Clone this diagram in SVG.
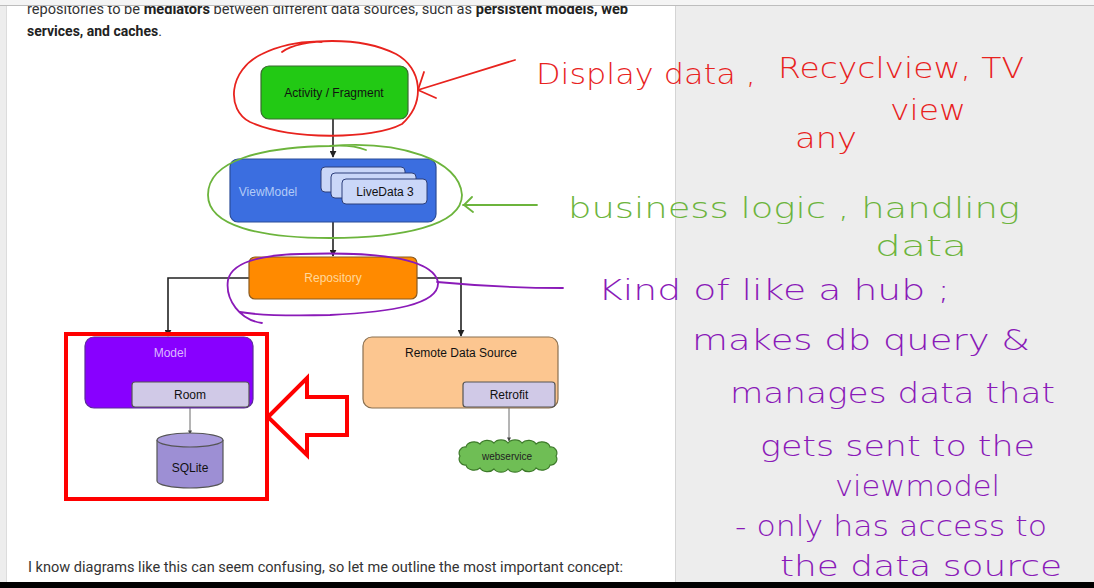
<svg xmlns="http://www.w3.org/2000/svg" width="1094" height="588" viewBox="0 0 1094 588">
<style>
.page{font-family:Roboto,"Liberation Sans",sans-serif;font-size:14px;fill:#333}
.b{font-weight:bold;fill:#222}
.lbl{font-family:"Liberation Sans",Arial,sans-serif;font-size:12px;text-anchor:middle}
.node{stroke-width:1.2}
.conn{fill:none;stroke:#222;stroke-width:1.6}
.thin{fill:none;stroke:#444;stroke-width:0.8}
.hand{font-family:"DejaVu Sans",sans-serif;font-weight:200;font-size:29px}
.ink{fill:none;stroke-width:1.8;stroke-linecap:round;stroke-linejoin:round}
.red{fill:#e8231e}.redS{stroke:#e8231e}
.grn{fill:#6cb43c}.grnS{stroke:#6cb43c}
.pur{fill:#8a1ab8}.purS{stroke:#8a1ab8}
</style>
<defs>
<marker id="ah" viewBox="0 0 10 10" refX="9" refY="5" markerWidth="7" markerHeight="7" orient="auto" markerUnits="userSpaceOnUse"><path d="M0,0 L10,5 L0,10 z" fill="#222"/></marker>
<marker id="ahs" viewBox="0 0 10 10" refX="9" refY="5" markerWidth="4" markerHeight="4" orient="auto" markerUnits="userSpaceOnUse"><path d="M0,0 L10,5 L0,10 z" fill="#444"/></marker>
</defs>
<!-- backgrounds -->
<rect x="0" y="0" width="1094" height="588" fill="#ededed"/>
<rect x="6" y="0" width="669" height="588" fill="#ffffff"/>
<line x1="675.5" y1="0" x2="675.5" y2="588" stroke="#d4d4d4" stroke-width="1"/>
<line x1="6.5" y1="0" x2="6.5" y2="588" stroke="#dcdcdc" stroke-width="1"/>
<!-- page text -->
<text class="page" x="27" y="14" textLength="601" lengthAdjust="spacingAndGlyphs">repositories to be <tspan class="b">mediators</tspan> between different data sources, such as <tspan class="b">persistent models, web</tspan></text>
<text class="page" x="27" y="36"><tspan class="b">services, and caches</tspan>.</text>
<text class="page" x="28" y="572" textLength="595" lengthAdjust="spacingAndGlyphs">I know diagrams like this can seem confusing, so let me outline the most important concept:</text>
<!-- top band -->
<rect x="0" y="0" width="1094" height="5" fill="#f4f4f4"/>
<line x1="0" y1="5.5" x2="1094" y2="5.5" stroke="#bdbdbd" stroke-width="1.2"/>
<rect x="0" y="582" width="1094" height="6" fill="#000"/>

<!-- connectors -->
<g id="connectors">
<path class="conn" d="M333 119 V157" marker-end="url(#ah)"/>
<path class="conn" d="M333 222 V256" marker-end="url(#ah)"/>
<path class="conn" d="M249 278 H168 V336" marker-end="url(#ah)"/>
<path class="conn" d="M417 278 H461 V336" marker-end="url(#ah)"/>
<path class="thin" d="M190 407 V434" marker-end="url(#ahs)"/>
<path class="thin" d="M509 407 V441" marker-end="url(#ahs)"/>
</g>

<g id="activity">
<rect class="node" x="261" y="66" width="147" height="53" rx="8" fill="#22c914" stroke="#3a6a30"/>
<text class="lbl" x="334" y="97" fill="#111">Activity / Fragment</text>
</g>
<g id="viewmodel">
<rect class="node" x="230" y="159" width="206" height="63" rx="8" fill="#3b6ee0" stroke="#2b4c98"/>
<text class="lbl" x="268" y="196" fill="#b3cbf7">ViewModel</text>
<rect x="321" y="167" width="84" height="25" rx="4" fill="#cad7f8" stroke="#2c3e7a" stroke-width="1"/>
<rect x="331" y="173" width="85" height="25" rx="4" fill="#cad7f8" stroke="#2c3e7a" stroke-width="1"/>
<rect x="342" y="179" width="85" height="25" rx="4" fill="#cad7f8" stroke="#2c3e7a" stroke-width="1"/>
<text class="lbl" x="385" y="196" fill="#111">LiveData 3</text>
</g>
<g id="repository">
<rect class="node" x="249" y="257" width="168" height="42" rx="6" fill="#ff8a00" stroke="#8a5a20"/>
<text class="lbl" x="333" y="282" fill="#ffd89c">Repository</text>
</g>
<g id="model">
<rect class="node" x="85" y="337" width="168" height="71" rx="9" fill="#8800ff" stroke="#5a2a9a"/>
<text class="lbl" x="170" y="357" fill="#dcb8ff">Model</text>
</g>
<g id="room">
<rect class="node" x="132" y="382" width="117" height="25" rx="3" fill="#d0c9e7" stroke="#555"/>
<text class="lbl" x="190" y="399" fill="#111">Room</text>
</g>
<g id="sqlite">
<path class="node" d="M157 440 V481 A33 7 0 0 0 223 481 V440" fill="#9d8fd4" stroke="#555"/>
<ellipse class="node" cx="190" cy="440" rx="33" ry="7" fill="#a99bdc" stroke="#555"/>
<text class="lbl" x="190" y="472" fill="#111">SQLite</text>
</g>
<g id="remote">
<rect class="node" x="363" y="337" width="195" height="71" rx="9" fill="#fcc690" stroke="#8a7050"/>
<text class="lbl" x="461" y="357" fill="#111">Remote Data Source</text>
</g>
<g id="retrofit">
<rect class="node" x="463" y="382" width="92" height="25" rx="3" fill="#d0c9e7" stroke="#555"/>
<text class="lbl" x="509" y="399" fill="#111">Retrofit</text>
</g>
<g id="webservice">
<path class="node" d="M466 447 a8 6 0 0 1 14 -3 a8 6 0 0 1 14 -1 a8 6 0 0 1 14 0 a8 6 0 0 1 14 0 a8 6 0 0 1 14 1 a8 6 0 0 1 14 3 a6 6 0 0 1 6 9 a6 6 0 0 1 -6 9 a8 6 0 0 1 -14 3 a8 6 0 0 1 -14 1 a8 6 0 0 1 -14 0 a8 6 0 0 1 -14 0 a8 6 0 0 1 -14 -1 a8 6 0 0 1 -14 -3 a6 6 0 0 1 -6 -9 a6 6 0 0 1 6 -9 z" fill="#6fbe55" stroke="#3d7a2a"/>
<text class="lbl" x="507" y="460" fill="#222" style="font-size:10px">webservice</text>
</g>

<!-- red highlight box and arrow -->
<g id="highlight">
<rect x="66" y="334" width="201" height="165" fill="none" stroke="#ff0000" stroke-width="4"/>
<polygon points="268,417 307,378 307,397 347,397 347,435 307,435 307,455" fill="#fff" stroke="#ff0000" stroke-width="4" stroke-linejoin="miter"/>
</g>

<!-- handwritten annotations -->
<g id="ann-red">
<path class="ink redS" d="M282 52 C300 38 360 36 396 54 C422 68 426 102 402 124 C372 140 290 140 250 122 C226 110 228 70 262 54 C276 47 300 40 322 42"/>
<path class="ink redS" d="M418 90 L515 60 M424 72 L418 90 L436 98"/>
<text class="hand red" x="536" y="84" textLength="220" lengthAdjust="spacingAndGlyphs">Display data ,</text>
<text class="hand red" x="778" y="78" textLength="246" lengthAdjust="spacingAndGlyphs">Recyclview, TV</text>
<text class="hand red" x="890" y="120" textLength="76" lengthAdjust="spacingAndGlyphs">view</text>
<text class="hand red" x="795" y="148" textLength="62" lengthAdjust="spacingAndGlyphs">any</text>
</g>
<g id="ann-green">
<path class="ink grnS" d="M330 146 C400 140 460 160 462 195 C462 226 400 238 330 238 C260 238 208 226 208 195 C208 160 262 147 330 146 C345 145 356 146 366 150"/>
<path class="ink grnS" d="M463 205 L537 205 M472 197 L464 205 L473 212"/>
<text class="hand grn" x="568" y="218" textLength="452" lengthAdjust="spacingAndGlyphs">business logic , handling</text>
<text class="hand grn" x="875" y="256" textLength="92" lengthAdjust="spacingAndGlyphs">data</text>
</g>
<g id="ann-purple">
<path class="ink purS" d="M262 323 C240 320 225 300 228 280 C232 262 260 255 300 254 C360 252 432 255 438 282 C440 305 390 312 330 315 C290 316 262 316 240 312"/>
<path class="ink purS" d="M437 282 C480 286 520 288 563 288"/>
<text class="hand pur" x="598" y="300" textLength="352" lengthAdjust="spacingAndGlyphs">Kind of like a hub ;</text>
<text class="hand pur" x="692" y="350" textLength="338" lengthAdjust="spacingAndGlyphs">makes db query &amp;</text>
<text class="hand pur" x="730" y="403" textLength="325" lengthAdjust="spacingAndGlyphs">manages data that</text>
<text class="hand pur" x="760" y="456" textLength="275" lengthAdjust="spacingAndGlyphs">gets sent to the</text>
<text class="hand pur" x="835" y="496" textLength="165" lengthAdjust="spacingAndGlyphs">viewmodel</text>
<text class="hand pur" x="735" y="536" textLength="312" lengthAdjust="spacingAndGlyphs">- only has access to</text>
<text class="hand pur" x="780" y="576" textLength="282" lengthAdjust="spacingAndGlyphs">the data source</text>
</g>
</svg>
